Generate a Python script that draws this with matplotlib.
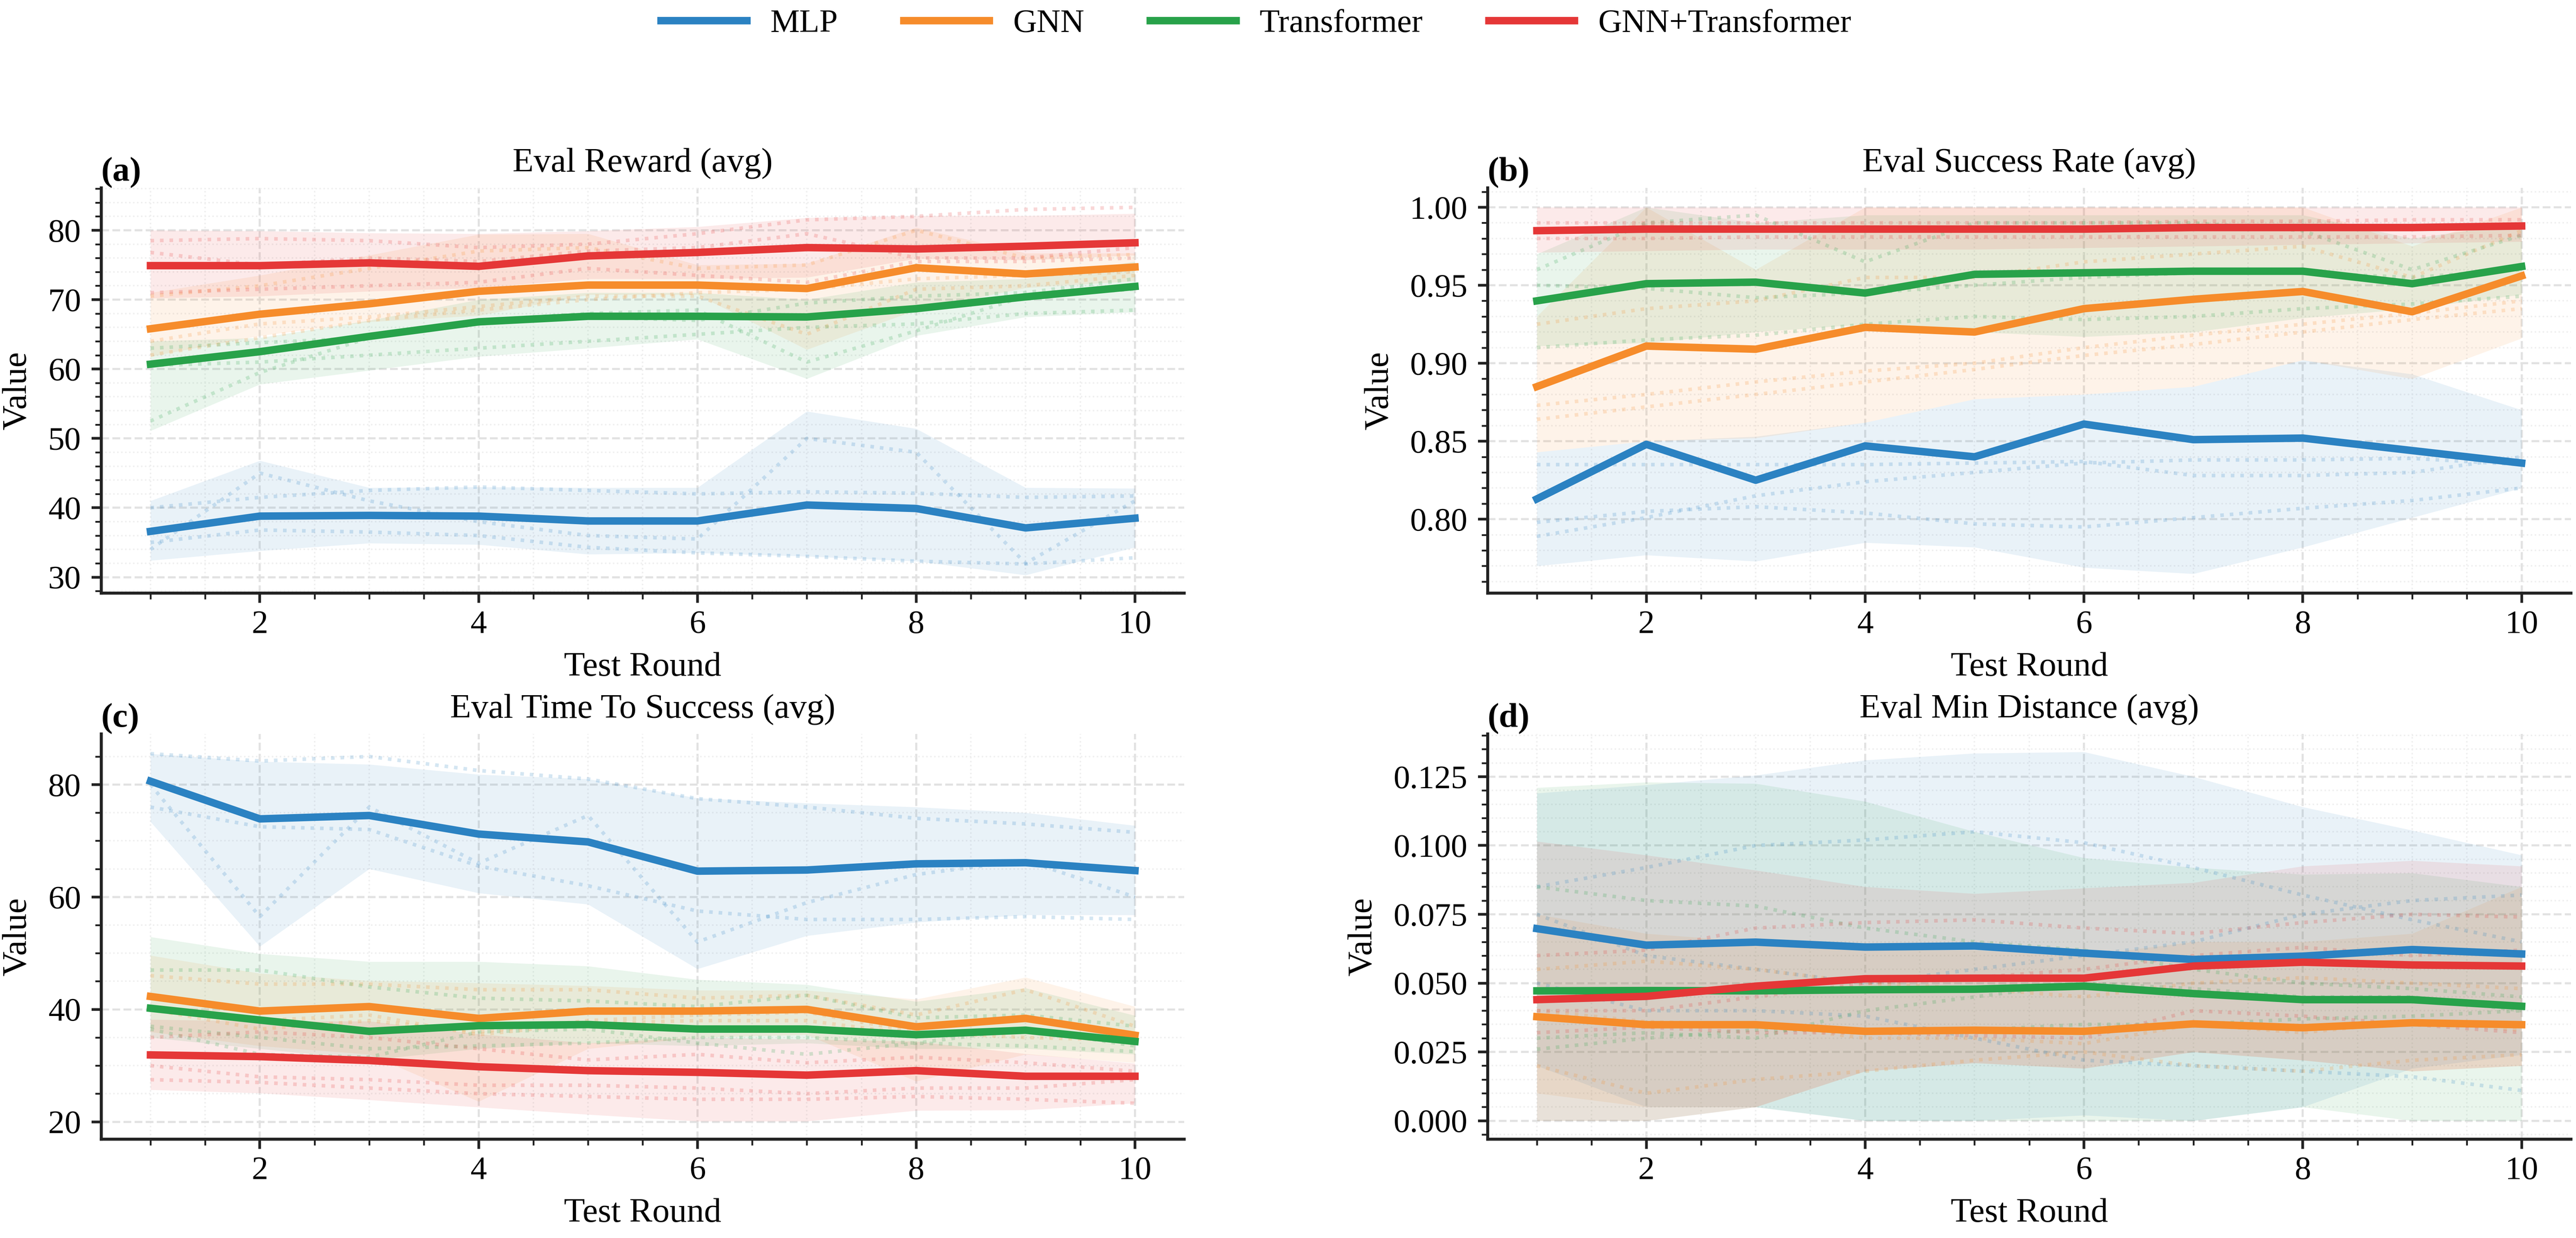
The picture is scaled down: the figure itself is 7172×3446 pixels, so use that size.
import matplotlib
matplotlib.use("Agg")
import matplotlib.pyplot as plt
from matplotlib.ticker import MultipleLocator
import numpy as np

plt.rcParams['font.family'] = ['Liberation Serif', 'DejaVu Serif']

# test rounds
rounds = [1, 2, 3, 4, 5, 6, 7, 8, 9, 10]
models = ['MLP', 'GNN', 'Transformer', 'GNN+Transformer']
colors = ['#2b82c2', '#f68c2b', '#28a24a', '#e53737']
titles = ['Eval Reward (avg)', 'Eval Success Rate (avg)',
          'Eval Time To Success (avg)', 'Eval Min Distance (avg)']
panel_tags = ['(a)', '(b)', '(c)', '(d)']

# ---- (a) eval reward ----
reward_mean = {
    'MLP': [36.6, 38.8, 38.9, 38.8, 38.1, 38.1, 40.4, 39.9, 37.1, 38.5],
    'GNN': [65.8, 67.9, 69.4, 71.2, 72.1, 72.1, 71.6, 74.6, 73.7, 74.7],
    'Transformer': [60.7, 62.5, 64.7, 66.8, 67.6, 67.6, 67.5, 68.7, 70.4, 71.9],
    'GNN+Transformer': [74.9, 74.9, 75.3, 74.8, 76.3, 76.8, 77.5, 77.3, 77.7, 78.2],
}
reward_low = {
    'MLP': [32.4, 33.8, 34.9, 34.7, 33.3, 33.5, 33.0, 32.3, 30.3, 34.3],
    'GNN': [61.8, 64.8, 66.8, 67.7, 70.7, 70.7, 62.8, 68.5, 71.7, 72.7],
    'Transformer': [51.1, 57.8, 59.8, 61.8, 63.0, 64.3, 58.6, 64.8, 67.5, 68.2],
    'GNN+Transformer': [70.2, 70.5, 71.2, 71.7, 73.0, 73.0, 73.2, 75.9, 75.7, 76.4],
}
reward_high = {
    'MLP': [41.0, 46.8, 42.9, 43.0, 42.9, 42.9, 53.9, 51.4, 42.9, 42.8],
    'GNN': [71.0, 73.5, 76.4, 79.4, 79.5, 75.0, 75.2, 80.4, 76.7, 76.7],
    'Transformer': [64.0, 64.5, 67.0, 70.0, 71.0, 71.0, 70.0, 72.5, 73.0, 75.5],
    'GNN+Transformer': [80.0, 79.9, 79.6, 79.5, 79.9, 80.5, 81.8, 82.1, 82.1, 82.4],
}
reward_seeds = {
    'MLP': [[34.0, 45.0, 41.0, 38.0, 36.0, 35.5, 50.0, 48.0, 32.0, 41.0],
            [40.0, 41.5, 42.5, 43.0, 42.5, 42.0, 42.3, 42.1, 41.5, 41.7],
            [35.0, 36.8, 36.5, 36.0, 34.3, 33.5, 33.0, 32.3, 31.9, 32.8]],
    'GNN': [[62.0, 64.5, 67.0, 68.5, 70.0, 71.0, 71.5, 73.0, 73.5, 74.0],
            [70.5, 72.0, 74.5, 77.0, 77.5, 74.5, 75.0, 80.0, 76.0, 76.5],
            [64.0, 66.5, 67.5, 69.0, 70.5, 70.5, 65.0, 71.5, 72.0, 73.5]],
    'Transformer': [[52.5, 59.5, 64.5, 67.0, 68.0, 68.5, 61.0, 65.5, 70.5, 71.5],
                    [63.0, 63.8, 64.5, 66.5, 67.5, 67.0, 69.5, 70.5, 71.0, 73.0],
                    [60.5, 61.0, 62.0, 63.0, 64.0, 65.0, 66.0, 66.5, 68.0, 68.5]],
    'GNN+Transformer': [[78.5, 78.8, 78.5, 77.5, 78.0, 79.5, 81.5, 82.0, 83.0, 83.3],
                        [76.8, 75.0, 76.0, 75.5, 77.0, 77.5, 79.5, 76.0, 76.0, 77.5],
                        [71.0, 71.5, 72.0, 72.5, 74.5, 73.5, 72.5, 75.5, 75.5, 76.0]],
}

# ---- (b) eval success rate ----
success_mean = {
    'MLP': [0.813, 0.848, 0.825, 0.847, 0.840, 0.861, 0.851, 0.852, 0.844, 0.836],
    'GNN': [0.885, 0.911, 0.909, 0.923, 0.920, 0.935, 0.941, 0.946, 0.933, 0.956],
    'Transformer': [0.940, 0.951, 0.952, 0.945, 0.957, 0.958, 0.959, 0.959, 0.951, 0.962],
    'GNN+Transformer': [0.985, 0.986, 0.986, 0.986, 0.986, 0.986, 0.987, 0.987, 0.987, 0.988],
}
success_low = {
    'MLP': [0.770, 0.777, 0.773, 0.785, 0.782, 0.769, 0.765, 0.782, 0.801, 0.820],
    'GNN': [0.843, 0.850, 0.852, 0.862, 0.877, 0.880, 0.885, 0.902, 0.890, 0.916],
    'Transformer': [0.911, 0.913, 0.920, 0.925, 0.920, 0.917, 0.920, 0.929, 0.935, 0.944],
    'GNN+Transformer': [0.971, 0.972, 0.973, 0.973, 0.973, 0.974, 0.975, 0.976, 0.977, 0.978],
}
success_high = {
    'MLP': [0.843, 0.850, 0.853, 0.862, 0.877, 0.880, 0.885, 0.902, 0.893, 0.870],
    'GNN': [0.930, 1.000, 0.960, 1.000, 1.000, 1.000, 1.000, 1.000, 0.975, 1.000],
    'Transformer': [0.970, 1.000, 0.990, 0.995, 0.995, 0.995, 0.995, 0.995, 0.980, 0.990],
    'GNN+Transformer': [1.000, 1.000, 1.000, 1.000, 1.000, 1.000, 1.000, 1.000, 1.000, 1.000],
}
success_seeds = {
    'MLP': [[0.835, 0.835, 0.835, 0.835, 0.836, 0.837, 0.828, 0.828, 0.830, 0.840],
            [0.789, 0.801, 0.815, 0.824, 0.830, 0.836, 0.838, 0.838, 0.839, 0.835],
            [0.798, 0.805, 0.808, 0.804, 0.797, 0.795, 0.801, 0.807, 0.812, 0.820]],
    'GNN': [[0.864, 0.872, 0.880, 0.888, 0.896, 0.905, 0.912, 0.920, 0.928, 0.935],
            [0.873, 0.880, 0.888, 0.895, 0.900, 0.910, 0.918, 0.925, 0.932, 0.940],
            [0.925, 0.935, 0.940, 0.955, 0.955, 0.965, 0.970, 0.975, 0.955, 0.985]],
    'Transformer': [[0.950, 0.948, 0.942, 0.945, 0.950, 0.955, 0.958, 0.958, 0.955, 0.960],
                    [0.910, 0.915, 0.918, 0.925, 0.930, 0.928, 0.930, 0.935, 0.938, 0.943],
                    [0.960, 0.990, 0.995, 0.965, 0.990, 0.990, 0.990, 0.985, 0.960, 0.982]],
    'GNN+Transformer': [[0.990, 0.990, 0.990, 0.990, 0.990, 0.990, 0.991, 0.991, 0.992, 0.992],
                        [0.980, 0.980, 0.981, 0.981, 0.981, 0.981, 0.981, 0.981, 0.981, 0.982],
                        [0.985, 0.988, 0.987, 0.987, 0.987, 0.987, 0.988, 0.988, 0.988, 0.989]],
}

# ---- (c) eval time to success ----
time_mean = {
    'MLP': [80.6, 73.9, 74.5, 71.2, 69.8, 64.6, 64.8, 65.9, 66.1, 64.7],
    'GNN': [42.3, 39.7, 40.5, 38.4, 39.7, 39.7, 40.0, 36.9, 38.4, 35.4],
    'Transformer': [40.2, 38.1, 36.1, 37.1, 37.3, 36.5, 36.5, 35.5, 36.3, 34.3],
    'GNN+Transformer': [31.9, 31.6, 30.9, 29.8, 29.1, 28.8, 28.3, 29.1, 28.1, 28.1],
}
time_low = {
    'MLP': [73.4, 51.2, 65.0, 60.7, 58.7, 47.2, 53.1, 55.5, 56.8, 56.8],
    'GNN': [36.0, 33.5, 32.0, 23.6, 33.0, 35.0, 35.5, 27.2, 32.0, 30.5],
    'Transformer': [35.0, 33.0, 31.0, 33.0, 34.0, 33.5, 34.0, 33.0, 33.0, 32.0],
    'GNN+Transformer': [25.7, 25.1, 23.9, 22.6, 21.3, 20.1, 20.1, 22.0, 22.1, 23.3],
}
time_high = {
    'MLP': [85.5, 84.1, 83.6, 81.8, 81.0, 77.6, 76.7, 76.0, 75.0, 72.7],
    'GNN': [49.6, 46.4, 45.1, 44.7, 44.2, 43.4, 43.4, 41.8, 45.7, 40.5],
    'Transformer': [52.9, 49.9, 48.5, 48.5, 47.7, 45.3, 44.4, 41.4, 43.8, 38.9],
    'GNN+Transformer': [38.2, 37.9, 37.9, 35.6, 34.0, 35.0, 34.7, 34.3, 32.1, 30.4],
}
time_seeds = {
    'MLP': [[85.5, 84.2, 85.0, 82.5, 81.0, 77.5, 76.0, 74.0, 73.0, 71.5],
            [80.0, 56.5, 76.0, 66.0, 74.5, 52.0, 59.0, 64.0, 66.5, 60.0],
            [76.0, 72.5, 72.0, 65.5, 62.0, 57.5, 56.0, 56.0, 56.5, 56.0]],
    'GNN': [[46.0, 44.5, 44.5, 43.5, 43.5, 42.0, 42.5, 39.0, 43.5, 37.0],
            [40.5, 38.0, 39.0, 35.5, 37.5, 38.0, 38.0, 35.5, 36.5, 34.5],
            [40.0, 36.5, 38.0, 36.0, 38.0, 39.0, 39.5, 36.0, 35.0, 34.5]],
    'Transformer': [[47.0, 47.0, 44.0, 42.0, 41.5, 40.5, 42.5, 38.5, 39.0, 37.0],
                    [37.0, 35.0, 33.0, 33.5, 34.0, 35.0, 35.0, 34.0, 33.5, 32.5],
                    [36.5, 32.0, 31.5, 36.0, 36.5, 34.0, 32.0, 34.0, 36.5, 33.5]],
    'GNN+Transformer': [[35.0, 36.0, 35.0, 33.0, 31.0, 32.0, 30.5, 31.5, 30.5, 29.0],
                        [30.0, 28.0, 27.5, 26.5, 26.5, 26.0, 25.0, 26.0, 26.0, 27.5],
                        [27.5, 27.0, 26.0, 25.0, 24.5, 24.0, 24.0, 24.5, 24.0, 23.3]],
}

# ---- (d) eval min distance ----
dist_mean = {
    'MLP': [0.0698, 0.0638, 0.0649, 0.0631, 0.0635, 0.0609, 0.0586, 0.0598, 0.0622, 0.0606],
    'GNN': [0.0378, 0.0349, 0.0349, 0.0325, 0.0329, 0.0325, 0.0352, 0.0338, 0.0356, 0.0349],
    'Transformer': [0.0472, 0.0473, 0.0472, 0.0476, 0.0478, 0.0489, 0.0462, 0.0440, 0.0440, 0.0416],
    'GNN+Transformer': [0.0440, 0.0452, 0.0489, 0.0516, 0.0518, 0.0518, 0.0562, 0.0576, 0.0566, 0.0562],
}
dist_low = {
    'MLP': [0.020, 0.005, 0.005, 0.000, 0.000, 0.002, 0.000, 0.005, 0.019, 0.024],
    'GNN': [0.010, 0.005, 0.005, 0.018, 0.021, 0.019, 0.025, 0.022, 0.018, 0.020],
    'Transformer': [0.000, 0.000, 0.005, 0.000, 0.000, 0.000, 0.000, 0.005, 0.000, 0.000],
    'GNN+Transformer': [0.000, 0.000, 0.005, 0.018, 0.021, 0.019, 0.025, 0.022, 0.018, 0.020],
}
dist_high = {
    'MLP': [0.119, 0.122, 0.1255, 0.131, 0.1335, 0.134, 0.125, 0.114, 0.1055, 0.0965],
    'GNN': [0.075, 0.068, 0.065, 0.062, 0.062, 0.060, 0.065, 0.065, 0.068, 0.085],
    'Transformer': [0.121, 0.123, 0.1225, 0.116, 0.105, 0.0955, 0.092, 0.0895, 0.090, 0.085],
    'GNN+Transformer': [0.1015, 0.0965, 0.091, 0.085, 0.0825, 0.0845, 0.0865, 0.0925, 0.0945, 0.0925],
}
dist_seeds = {
    'MLP': [[0.085, 0.092, 0.100, 0.102, 0.105, 0.101, 0.092, 0.082, 0.073, 0.065],
            [0.075, 0.060, 0.055, 0.050, 0.055, 0.060, 0.065, 0.075, 0.080, 0.082],
            [0.050, 0.040, 0.040, 0.038, 0.030, 0.022, 0.020, 0.018, 0.016, 0.011]],
    'GNN': [[0.020, 0.010, 0.015, 0.018, 0.022, 0.025, 0.020, 0.018, 0.022, 0.024],
            [0.055, 0.058, 0.055, 0.050, 0.048, 0.045, 0.050, 0.052, 0.050, 0.048],
            [0.040, 0.036, 0.035, 0.030, 0.030, 0.028, 0.035, 0.032, 0.036, 0.033]],
    'Transformer': [[0.085, 0.080, 0.078, 0.070, 0.065, 0.062, 0.055, 0.050, 0.048, 0.045],
                    [0.030, 0.032, 0.030, 0.040, 0.045, 0.050, 0.048, 0.045, 0.045, 0.040],
                    [0.026, 0.030, 0.033, 0.033, 0.033, 0.035, 0.035, 0.037, 0.038, 0.040]],
    'GNN+Transformer': [[0.060, 0.062, 0.070, 0.072, 0.073, 0.070, 0.068, 0.072, 0.075, 0.074],
                        [0.040, 0.040, 0.045, 0.050, 0.052, 0.055, 0.060, 0.063, 0.060, 0.062],
                        [0.032, 0.034, 0.032, 0.032, 0.031, 0.030, 0.040, 0.038, 0.035, 0.032]],
}

panels = [
    (reward_mean, reward_low, reward_high, reward_seeds),
    (success_mean, success_low, success_high, success_seeds),
    (time_mean, time_low, time_high, time_seeds),
    (dist_mean, dist_low, dist_high, dist_seeds),
]
ylims = [(27.7, 86.1), (0.7526, 1.0124), (16.9, 89.0), (-0.0067, 0.1405)]
ymajor = [10, 0.05, 20, 0.025]
yminor = [2, 0.01, 5, 0.005]

fig = plt.figure(figsize=(7172 / 300, 3446 / 300), dpi=300)
boxes = [[0.0393, 0.5209, 0.4204, 0.3273], [0.5775, 0.5209, 0.4205, 0.3273],
         [0.0393, 0.0798, 0.4204, 0.3273], [0.5775, 0.0798, 0.4205, 0.3273]]

handles = []
for i, (mean, low, high, seeds) in enumerate(panels):
    ax = fig.add_axes(boxes[i])
    for j, m in enumerate(models):
        c = colors[j]
        ax.fill_between(rounds, low[m], high[m], color=c, alpha=0.1, linewidth=0, zorder=1)
        for s in seeds[m]:
            ax.plot(rounds, s, color=c, linestyle=':', linewidth=2.4, alpha=0.2, zorder=2)
    for j, m in enumerate(models):
        line, = ax.plot(rounds, mean[m], color=colors[j], linewidth=5.0,
                        label=m, zorder=3 + j)
        if i == 0:
            handles.append(line)

    ax.set_xlim(0.55, 10.45)
    ax.set_ylim(*ylims[i])
    ax.xaxis.set_major_locator(MultipleLocator(2))
    ax.xaxis.set_minor_locator(MultipleLocator(0.5))
    ax.yaxis.set_major_locator(MultipleLocator(ymajor[i]))
    ax.yaxis.set_minor_locator(MultipleLocator(yminor[i]))
    if i == 1:
        ax.yaxis.set_major_formatter(plt.FormatStrFormatter('%.2f'))
    if i == 3:
        ax.yaxis.set_major_formatter(plt.FormatStrFormatter('%.3f'))

    ax.grid(which='major', linestyle='--', color='#e2e2e2', linewidth=1.4, zorder=0)
    ax.grid(which='minor', linestyle=':', color='#efefef', linewidth=1.0, zorder=0)
    ax.set_axisbelow(True)

    for side in ['top', 'right']:
        ax.spines[side].set_visible(False)
    for side in ['left', 'bottom']:
        ax.spines[side].set_linewidth(2.0)
        ax.spines[side].set_color('#222222')
    ax.tick_params(which='major', direction='out', length=6.5, width=1.8,
                   labelsize=22, color='#222222')
    ax.tick_params(which='minor', direction='out', length=4, width=1.2, color='#222222')
    ax.tick_params(axis='x', which='major', pad=5)
    ax.tick_params(axis='y', which='major', pad=7)

    ax.set_title(titles[i], fontsize=23, pad=11)
    ax.set_xlabel('Test Round', fontsize=23, labelpad=8)
    ax.set_ylabel('Value', fontsize=23, labelpad=10)
    ax.text(0.0, 1.0, panel_tags[i], transform=ax.transAxes, ha='left', va='bottom',
            fontsize=23, fontweight='bold')

fig.legend(handles, models, loc='center', bbox_to_anchor=(0.4876, 0.9806), ncol=4,
           frameon=False, fontsize=22, handlelength=2.6, handletextpad=0.72,
           columnspacing=2.0)

fig.savefig('out.png', dpi=300)
